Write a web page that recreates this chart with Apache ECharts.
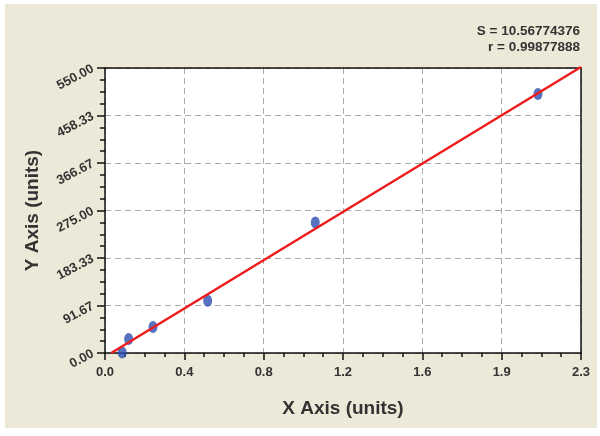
<!DOCTYPE html>
<html><head><meta charset="utf-8">
<script src="https://cdn.jsdelivr.net/npm/echarts@6/dist/echarts.min.js"></script>
<style>html,body{margin:0;padding:0;background:#fff}#c{width:600px;height:436px}</style>
</head><body><div id="c"></div>
<script>
var xLabels = ['0.0','0.4','0.8','1.2','1.6','1.9','2.3'];
var yLabels = ['0.00','91.67','183.33','275.00','366.67','458.33','550.00'];
var pointsX = [0.083, 0.114, 0.232, 0.496, 1.016, 2.092];
var pointsY = [1, 27, 50, 101, 252, 500];
var fitX = [0.03, 2.3];
var fitY = [0, 552];
var statS = 'S = 10.56774376';
var statR = 'r = 0.99877888';
var xMax = 2.3, yMax = 550;

var chart = echarts.init(document.getElementById('c'), null, {renderer:'canvas'});
var xStep = xMax / 6, yStep = yMax / 6;
var font = 'Arial, "Liberation Sans", sans-serif';
var frameAxis = {show:true, axisLine:{show:true, onZero:false, lineStyle:{color:'#111', width:1.5}},
  axisTick:{show:false}, axisLabel:{show:false}, splitLine:{show:false}};
chart.setOption({
  backgroundColor: 'transparent',
  animation: false,
  graphic: [
    {type:'rect', shape:{x:5,y:4,width:592,height:424}, style:{fill:'#ece9d9'}, z:-10},
    {type:'text', right:20, top:24, style:{text:statS, font:'bold 13.5px '+font, fill:'#333', textAlign:'right'}},
    {type:'text', right:20, top:40, style:{text:statR, font:'bold 13.5px '+font, fill:'#333', textAlign:'right'}}
  ],
  grid: {left:105, right:19, top:68, bottom:83, show:true, backgroundColor:'#fff', borderWidth:0},
  xAxis: [{
    type:'value', min:0, max:xMax, interval:xStep,
    name:'X Axis (units)', nameLocation:'middle', nameGap:46,
    nameTextStyle:{fontFamily:font, fontWeight:'bold', fontSize:19, color:'#333'},
    axisLine:{lineStyle:{color:'#111', width:1.5}},
    axisTick:{show:true, inside:false, length:7, lineStyle:{color:'#111', width:1.5}},
    minorTick:{show:true, splitNumber:4, length:4, lineStyle:{color:'#111', width:1.5}},
    axisLabel:{fontFamily:font, fontWeight:'bold', fontSize:13, color:'#333', margin:13,
      formatter:function(v){return xLabels[Math.round(v/xStep)];}},
    splitLine:{show:true, lineStyle:{color:'#aaa', type:[6,4], width:1}}
  }, Object.assign({type:'value', min:0, max:xMax, position:'top'}, frameAxis)],
  yAxis: [{
    type:'value', min:0, max:yMax, interval:yStep,
    name:'Y Axis (units)', nameLocation:'middle', nameGap:63,
    nameTextStyle:{fontFamily:font, fontWeight:'bold', fontSize:19, color:'#333'},
    axisLine:{show:true, lineStyle:{color:'#111', width:1.5}},
    axisTick:{show:true, inside:false, length:8, lineStyle:{color:'#111', width:1.5}},
    minorTick:{show:true, splitNumber:4, length:5, lineStyle:{color:'#111', width:1.5}},
    axisLabel:{fontFamily:font, fontWeight:'bold', fontSize:13, color:'#333', rotate:28, margin:12,
      formatter:function(v){return yLabels[Math.round(v/yStep)];}},
    splitLine:{show:true, lineStyle:{color:'#aaa', type:[6,4], width:1}}
  }, Object.assign({type:'value', min:0, max:yMax, position:'right'}, frameAxis)],
  series: [
    {type:'scatter', data:pointsX.map(function(x,i){return [x,pointsY[i]];}),
      symbol:'circle', symbolSize:[9,12], itemStyle:{color:'#2c4fb0'}, z:2, clip:false},
    {type:'line', data:fitX.map(function(x,i){return [x,fitY[i]];}),
      showSymbol:false, symbol:'none', lineStyle:{color:'#ee1c1c', width:2.5}, z:3, clip:false}
  ]
});
</script></body></html>
